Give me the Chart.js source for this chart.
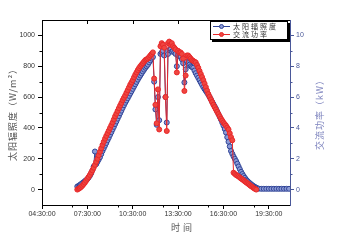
<!DOCTYPE html>
<html>
<head>
<meta charset="utf-8">
<script src="https://cdn.jsdelivr.net/npm/chart.js@4.4.0/dist/chart.umd.min.js"></script>
<style>
  html, body { margin: 0; padding: 0; background: #fff; }
  #chart { display: block; }
</style>
</head>
<body>
<canvas id="chart" width="345" height="241"></canvas>
<script>
// sample times (5 min during daylight, 10 min in the evening)
const times = [
  '06:50','06:55','07:00','07:05','07:10','07:15','07:20','07:25','07:30','07:35','07:40','07:45','07:50','07:55',
  '08:00','08:05','08:10','08:15','08:20','08:25','08:30','08:35','08:40','08:45','08:50','08:55',
  '09:00','09:05','09:10','09:15','09:20','09:25','09:30','09:35','09:40','09:45','09:50','09:55',
  '10:00','10:05','10:10','10:15','10:20','10:25','10:30','10:35','10:40','10:45','10:50','10:55',
  '11:00','11:05','11:10','11:15','11:20','11:25','11:30','11:35','11:40','11:45','11:50','11:55',
  '12:00','12:05','12:10','12:15','12:20','12:25','12:30','12:35','12:40','12:45','12:50','12:55',
  '13:00','13:05','13:10','13:15','13:20','13:25','13:30','13:35','13:40','13:45','13:50','13:55',
  '14:00','14:05','14:10','14:15','14:20','14:25','14:30','14:35','14:40','14:45','14:50','14:55',
  '15:00','15:05','15:10','15:15','15:20','15:25','15:30','15:35','15:40','15:45','15:50','15:55',
  '16:00','16:05','16:10','16:15','16:20','16:25','16:30','16:35','16:40','16:45','16:50','16:55',
  '17:00','17:05','17:10','17:15','17:20','17:25','17:30','17:35','17:40','17:45','17:50','17:55',
  '18:00','18:05','18:10','18:15','18:20','18:25','18:30','18:35','18:40','18:45','18:50',
  '19:00','19:10','19:20','19:30','19:40','19:50','20:00','20:10','20:20','20:30','20:40','20:50'
];

// 太阳辐照度 (W/m2)
const irradiance = [
  20, 24, 30, 36, 42, 48, 55, 61, 68, 78, 90, 105, 125, 150,
  247, 165, 180, 195, 210, 230, 250, 268, 285, 302, 320, 337,
  355, 372, 390, 407, 425, 442, 460, 477, 495, 512, 530, 547,
  563, 578, 593, 608, 623, 638, 653, 668, 683, 698, 713, 727,
  740, 753, 766, 778, 790, 800, 810, 825, 838, 850, 860, 700,
  520, 420, 600, 450, 880, 890, 900, 870, 600, 435, 880, 905,
  910, 895, 900, 890, 880, 800, 870, 865, 860, 845, 820, 695,
  780, 830, 820, 810, 800, 795, 790, 772, 755, 740, 725, 710,
  695, 680, 665, 652, 640, 628, 615, 600, 585, 570, 555, 540,
  525, 508, 490, 472, 455, 435, 415, 393, 370, 340, 310, 280,
  250, 232, 215, 200, 185, 168, 150, 132, 115, 101, 88, 76,
  65, 56, 48, 41, 34, 28, 22, 17, 12, 8, 6,
  5, 5, 5, 5, 5, 5, 5, 5, 5, 5, 5, 5
];

// 交流功率 (kW)
const acPower = [
  0.0, 0.05, 0.1, 0.17, 0.25, 0.35, 0.45, 0.57, 0.7, 0.82, 0.95, 1.1, 1.25, 1.42,
  1.6, 1.8, 2.0, 2.22, 2.45, 2.68, 2.9, 3.1, 3.3, 3.48, 3.65, 3.82,
  4.0, 4.17, 4.35, 4.55, 4.75, 4.92, 5.1, 5.28, 5.45, 5.62, 5.8, 5.95,
  6.1, 6.28, 6.45, 6.62, 6.8, 6.95, 7.1, 7.28, 7.45, 7.6, 7.75, 7.88,
  8.0, 8.1, 8.2, 8.3, 8.4, 8.45, 8.5, 8.6, 8.7, 8.8, 8.9, 7.2,
  5.5, 4.3, 6.5, 3.9, 9.3, 9.5, 9.4, 9.2, 6.0, 3.8, 9.5, 9.6,
  9.4, 9.5, 9.3, 9.2, 9.1, 7.6, 9.0, 8.9, 8.9, 8.8, 8.5, 6.4,
  7.4, 8.7, 8.7, 8.6, 8.5, 8.4, 8.35, 8.3, 8.25, 8.08, 7.9, 7.7,
  7.5, 7.3, 7.1, 6.88, 6.65, 6.42, 6.2, 6.02, 5.85, 5.68, 5.5, 5.35,
  5.2, 5.05, 4.9, 4.75, 4.6, 4.48, 4.35, 4.25, 4.15, 4.02, 3.9, 3.65,
  3.4, 3.2, 1.1, 1.02, 0.95, 0.9, 0.85, 0.78, 0.72, 0.66, 0.6, 0.53,
  0.47, 0.41, 0.35, 0.28, 0.22, 0.16, 0.1, 0.05, 0.0, null, null,
  null, null, null, null, null, null, null, null, null, null, null, null
];

const xTickHours = [4.5, 7.5, 10.5, 13.5, 16.5, 19.5];
const xTickLabels = ['04:30:00', '07:30:00', '10:30:00', '13:30:00', '16:30:00', '19:30:00'];
const xMinorHours = [6.5, 9.5, 12.5, 15.5, 18.5];
const leftTicks = [0, 200, 400, 600, 800, 1000];
const leftMinor = [100, 300, 500, 700, 900];
const rightTicks = [0, 2, 4, 6, 8, 10];
const rightMinor = [1, 3, 5, 7, 9];

const blue = '#2f4396';
const red = '#e8282a';
const axisBlue = '#4a5899';
const tickFont = { family: 'Liberation Sans', size: 7 };

function toHours(t) {
  const [h, m] = t.split(':').map(Number);
  return h + m / 60;
}

const hours = times.map(toHours);
const irrPoints = hours.map((h, i) => ({ x: h, y: irradiance[i] }));
const powerPoints = hours.map((h, i) => ({ x: h, y: acPower[i] }));

// top frame line, minor ticks, axis titles
const frameExtras = {
  id: 'frameExtras',
  afterDraw(chart) {
    const { ctx, chartArea: a, scales } = chart;
    ctx.save();
    ctx.lineWidth = 1;
    ctx.strokeStyle = '#000';
    ctx.beginPath();
    ctx.moveTo(a.left, a.top + 0.5);
    ctx.lineTo(a.right, a.top + 0.5);
    xTickHours.forEach(h => {
      const px = Math.round(scales.x.getPixelForValue(h)) + 0.5;
      ctx.moveTo(px, a.top);
      ctx.lineTo(px, a.top + 4);
    });
    xMinorHours.forEach(h => {
      const px = Math.round(scales.x.getPixelForValue(h)) + 0.5;
      ctx.moveTo(px, a.bottom);
      ctx.lineTo(px, a.bottom + 2.5);
    });
    leftMinor.forEach(v => {
      const py = Math.round(scales.y.getPixelForValue(v)) + 0.5;
      ctx.moveTo(a.left - 2.5, py);
      ctx.lineTo(a.left, py);
    });
    ctx.stroke();

    ctx.strokeStyle = axisBlue;
    ctx.beginPath();
    rightMinor.forEach(v => {
      const py = Math.round(scales.y1.getPixelForValue(v)) + 0.5;
      ctx.moveTo(a.right, py);
      ctx.lineTo(a.right + 2.5, py);
    });
    ctx.stroke();

    // axis titles
    ctx.textAlign = 'center';
    ctx.textBaseline = 'middle';
    ctx.font = '9px "Noto Sans CJK SC"';
    ctx.letterSpacing = '1px';
    const midY = (a.top + a.bottom) / 2;

    ctx.fillStyle = '#555';
    ctx.save();
    ctx.translate(13, midY);
    ctx.rotate(-Math.PI / 2);
    ctx.fillText('太阳辐照度（W/m²）', 0, 0);
    ctx.restore();

    ctx.fillStyle = '#7f85bf';
    ctx.save();
    ctx.translate(a.right + 30, midY);
    ctx.rotate(-Math.PI / 2);
    ctx.fillText('交流功率（kW）', 0, 0);
    ctx.restore();

    ctx.fillStyle = '#555';
    ctx.letterSpacing = '3px';
    ctx.fillText('时间', 183, 228);
    ctx.restore();
  }
};

// legend box with drop shadow inside the plot
const legendBox = {
  id: 'legendBox',
  afterDraw(chart) {
    const ctx = chart.ctx;
    const x = 210, y = 21, w = 77, h = 18;
    ctx.save();
    ctx.fillStyle = '#000';
    ctx.fillRect(x + 2, y + 2, w + 1, h + 1);
    ctx.fillStyle = '#fff';
    ctx.fillRect(x, y, w, h);
    ctx.strokeStyle = '#000';
    ctx.lineWidth = 1;
    ctx.strokeRect(x + 0.5, y + 0.5, w, h);

    ctx.font = '7px "Noto Sans CJK SC"';
    ctx.letterSpacing = '2px';
    ctx.textBaseline = 'middle';
    chart.data.datasets.forEach((ds, i) => {
      const ry = y + 5.5 + i * 8;
      ctx.strokeStyle = ds.borderColor;
      ctx.lineWidth = 1;
      ctx.beginPath();
      ctx.moveTo(x + 3, ry);
      ctx.lineTo(x + 20, ry);
      ctx.stroke();
      ctx.beginPath();
      ctx.arc(x + 11.5, ry, 2, 0, Math.PI * 2);
      ctx.fillStyle = ds.pointBackgroundColor;
      ctx.fill();
      ctx.strokeStyle = ds.pointBorderColor;
      ctx.stroke();
      ctx.fillStyle = '#333';
      ctx.fillText(ds.label, x + 23, ry);
    });
    ctx.restore();
  }
};

new Chart(document.getElementById('chart'), {
  type: 'line',
  data: {
    datasets: [
      {
        label: '太阳辐照度',
        data: irrPoints,
        yAxisID: 'y',
        order: 2,
        borderColor: blue,
        borderWidth: 1,
        pointRadius: 2.5,
        pointBackgroundColor: '#8c9bd6',
        pointBorderColor: blue,
        pointBorderWidth: 1,
        tension: 0
      },
      {
        label: '交流功率',
        data: powerPoints,
        yAxisID: 'y1',
        order: 1,
        borderColor: red,
        borderWidth: 1,
        pointRadius: 2.5,
        pointBackgroundColor: '#ef4640',
        pointBorderColor: red,
        pointBorderWidth: 1,
        tension: 0
      }
    ]
  },
  options: {
    responsive: false,
    animation: false,
    layout: { padding: { top: 20, left: 0, right: 0, bottom: 0 } },
    plugins: {
      legend: { display: false },
      tooltip: { enabled: false }
    },
    scales: {
      x: {
        type: 'linear',
        position: 'bottom',
        min: 4.5,
        max: 20.9,
        afterBuildTicks: s => { s.ticks = xTickHours.map(v => ({ value: v })); },
        afterFit: s => { s.height = 36; },
        ticks: {
          callback: (v, i) => xTickLabels[i],
          color: '#333',
          font: tickFont,
          padding: 1,
          maxRotation: 0,
          autoSkip: false
        },
        grid: { drawOnChartArea: false, tickLength: 4, color: '#000' },
        border: { color: '#000', width: 1 }
      },
      y: {
        position: 'left',
        min: -100,
        max: 1100,
        afterBuildTicks: s => { s.ticks = leftTicks.map(v => ({ value: v })); },
        afterFit: s => { s.width = 42; },
        ticks: { color: '#333', font: tickFont, padding: 3, callback: v => String(v) },
        grid: { drawOnChartArea: false, tickLength: 4, color: '#000' },
        border: { color: '#000', width: 1 }
      },
      y1: {
        position: 'right',
        min: -1,
        max: 11,
        afterBuildTicks: s => { s.ticks = rightTicks.map(v => ({ value: v })); },
        afterFit: s => { s.width = 55; },
        ticks: { color: axisBlue, font: tickFont, padding: 2, callback: v => String(v) },
        grid: { drawOnChartArea: false, tickLength: 4, color: axisBlue },
        border: { color: axisBlue, width: 1 }
      }
    }
  },
  plugins: [frameExtras, legendBox]
});
</script>
</body>
</html>
